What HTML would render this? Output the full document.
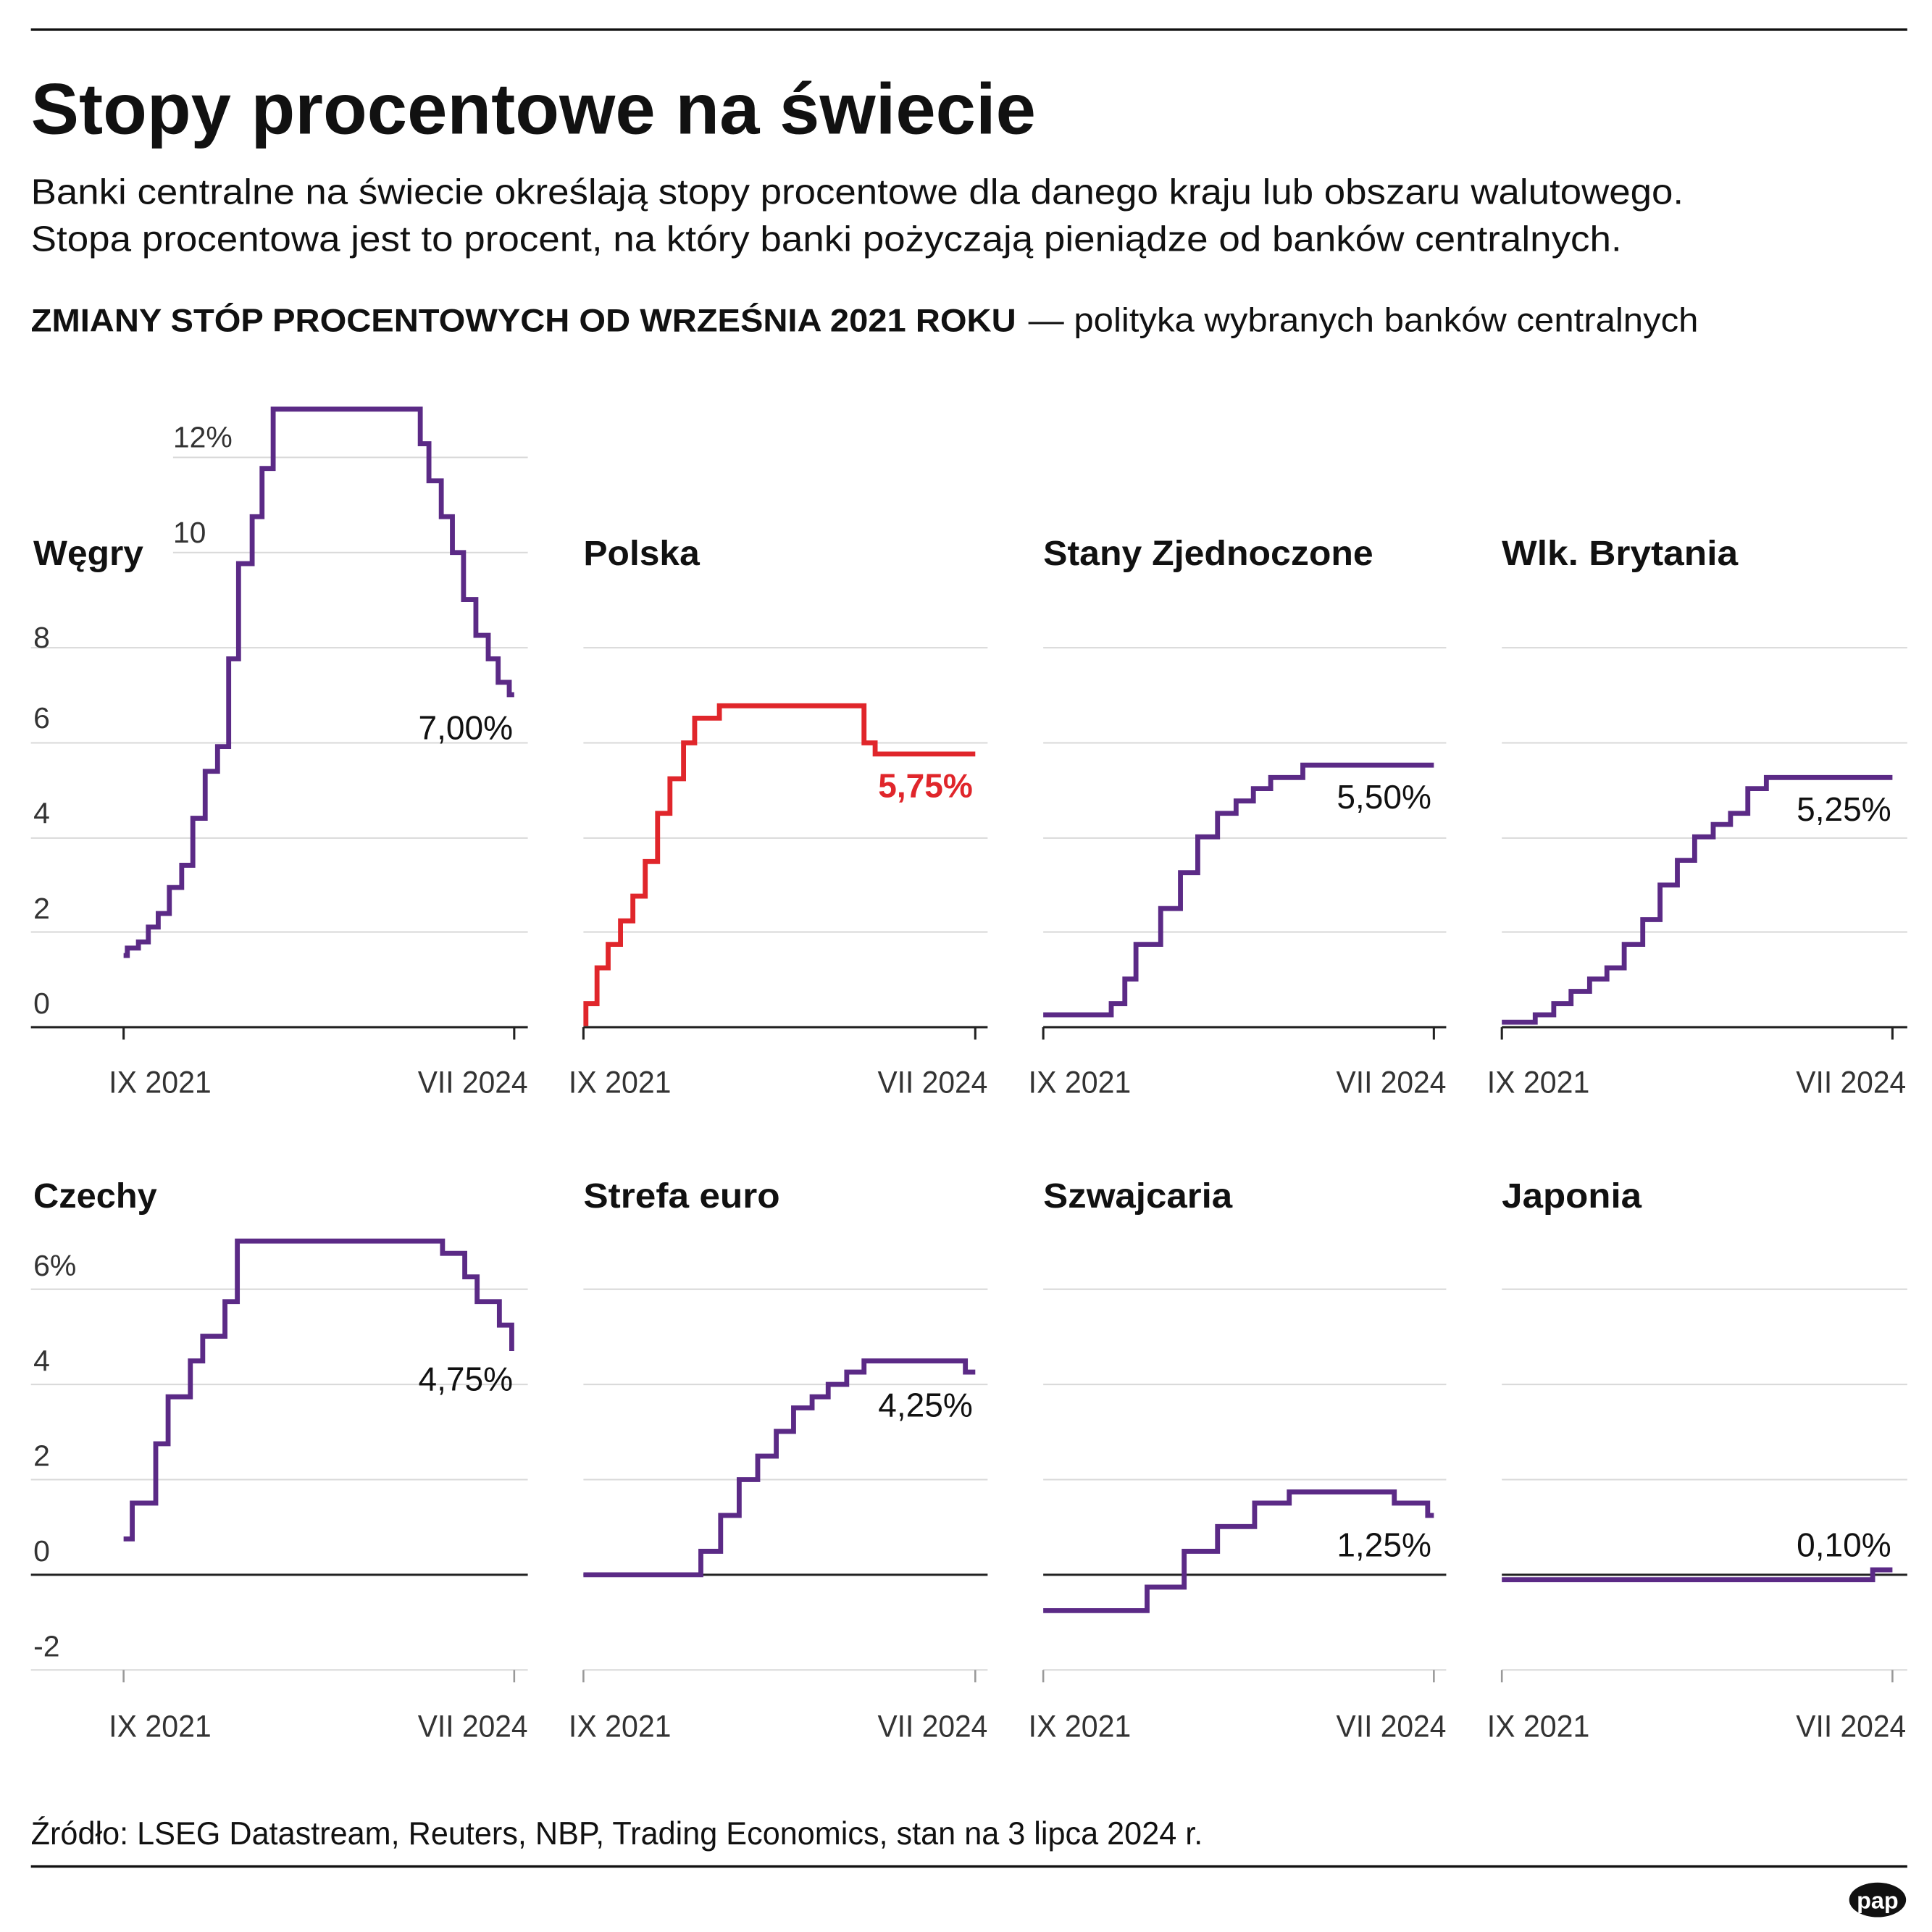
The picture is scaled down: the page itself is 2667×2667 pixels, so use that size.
<!DOCTYPE html>
<html><head><meta charset="utf-8"><style>
html,body{margin:0;padding:0;background:#fff}
svg{display:block}
text{font-family:"Liberation Sans",sans-serif;fill:#111}
.b{font-weight:bold}
.g{stroke:#d9d9d9;stroke-width:1.2;fill:none}
.ax{stroke:#222;stroke-width:1.8;fill:none}
.s{stroke:#5b2a86;stroke-width:4;fill:none;stroke-linejoin:miter}
.r{stroke:#e0262b;stroke-width:4;fill:none}
.yl{font-size:24px;fill:#333}
.xl{font-size:25px;fill:#333}
.pt{font-size:28px;font-weight:bold}
.vl{font-size:27px;text-anchor:end}
</style></head><body>
<svg width="2667" height="2667" viewBox="0 0 1563 1563" xmlns="http://www.w3.org/2000/svg">
<line x1="25" y1="24" x2="1543" y2="24" stroke="#111" stroke-width="2"/>
<text x="25" y="108" font-size="58" class="b" textLength="813" lengthAdjust="spacingAndGlyphs">Stopy procentowe na świecie</text>
<text x="25" y="165" font-size="29" textLength="1337" lengthAdjust="spacingAndGlyphs" fill="#222">Banki centralne na świecie określają stopy procentowe dla danego kraju lub obszaru walutowego.</text>
<text x="25" y="203" font-size="29" textLength="1287" lengthAdjust="spacingAndGlyphs" fill="#222">Stopa procentowa jest to procent, na który banki pożyczają pieniądze od banków centralnych.</text>
<text x="25" y="268" font-size="26" class="b" textLength="797" lengthAdjust="spacingAndGlyphs">ZMIANY STÓP PROCENTOWYCH OD WRZEŚNIA 2021 ROKU</text>
<text x="832" y="268" font-size="27" textLength="542" lengthAdjust="spacingAndGlyphs" fill="#222">— polityka wybranych banków centralnych</text>

<!-- Row 1 grid -->
<g class="g">
<line x1="140" y1="370" x2="427" y2="370"/><line x1="140" y1="447" x2="427" y2="447"/>
<line x1="25" y1="524" x2="427" y2="524"/><line x1="25" y1="601" x2="427" y2="601"/><line x1="25" y1="678" x2="427" y2="678"/><line x1="25" y1="754" x2="427" y2="754"/>
<line x1="472" y1="524" x2="799" y2="524"/><line x1="472" y1="601" x2="799" y2="601"/><line x1="472" y1="678" x2="799" y2="678"/><line x1="472" y1="754" x2="799" y2="754"/>
<line x1="844" y1="524" x2="1170" y2="524"/><line x1="844" y1="601" x2="1170" y2="601"/><line x1="844" y1="678" x2="1170" y2="678"/><line x1="844" y1="754" x2="1170" y2="754"/>
<line x1="1215" y1="524" x2="1543" y2="524"/><line x1="1215" y1="601" x2="1543" y2="601"/><line x1="1215" y1="678" x2="1543" y2="678"/><line x1="1215" y1="754" x2="1543" y2="754"/>
</g>
<g class="ax">
<line x1="25" y1="831" x2="427" y2="831"/><line x1="472" y1="831" x2="799" y2="831"/><line x1="844" y1="831" x2="1170" y2="831"/><line x1="1215" y1="831" x2="1543" y2="831"/>
<line x1="100" y1="831" x2="100" y2="841"/><line x1="416" y1="831" x2="416" y2="841"/>
<line x1="472" y1="831" x2="472" y2="841"/><line x1="789" y1="831" x2="789" y2="841"/>
<line x1="844" y1="831" x2="844" y2="841"/><line x1="1160" y1="831" x2="1160" y2="841"/>
<line x1="1215" y1="831" x2="1215" y2="841"/><line x1="1531" y1="831" x2="1531" y2="841"/>
</g>
<text class="yl" x="140" y="362">12%</text><text class="yl" x="140" y="439">10</text>
<text class="yl" x="27" y="524">8</text><text class="yl" x="27" y="589">6</text><text class="yl" x="27" y="666">4</text><text class="yl" x="27" y="743">2</text><text class="yl" x="27" y="820">0</text>
<g class="xl">
<text class="xl" x="88" y="884" textLength="83" lengthAdjust="spacingAndGlyphs">IX 2021</text><text class="xl" x="338" y="884" textLength="89" lengthAdjust="spacingAndGlyphs">VII 2024</text>
<text class="xl" x="460" y="884" textLength="83" lengthAdjust="spacingAndGlyphs">IX 2021</text><text class="xl" x="710" y="884" textLength="89" lengthAdjust="spacingAndGlyphs">VII 2024</text>
<text class="xl" x="832" y="884" textLength="83" lengthAdjust="spacingAndGlyphs">IX 2021</text><text class="xl" x="1081" y="884" textLength="89" lengthAdjust="spacingAndGlyphs">VII 2024</text>
<text class="xl" x="1203" y="884" textLength="83" lengthAdjust="spacingAndGlyphs">IX 2021</text><text class="xl" x="1453" y="884" textLength="89" lengthAdjust="spacingAndGlyphs">VII 2024</text>
</g>
<text class="pt" x="27" y="457" textLength="89" lengthAdjust="spacingAndGlyphs">Węgry</text>
<text class="pt" x="472" y="457" textLength="94" lengthAdjust="spacingAndGlyphs">Polska</text>
<text class="pt" x="844" y="457" textLength="267" lengthAdjust="spacingAndGlyphs">Stany Zjednoczone</text>
<text class="pt" x="1215" y="457" textLength="191" lengthAdjust="spacingAndGlyphs">Wlk. Brytania</text>

<polyline class="s" points="100,773 103,773 103,767 112,767 112,762 120,762 120,750 128,750 128,739 137,739 137,718 147,718 147,700 156,700 156,662 166,662 166,624 176,624 176,604 185,604 185,533 193,533 193,456 204,456 204,418 212,418 212,379 221,379 221,331 340,331 340,359 347,359 347,389 357,389 357,418 366,418 366,447 375,447 375,485 385,485 385,514 395,514 395,533 403,533 403,552 412,552 412,562 416,562"/>
<text class="vl" x="415" y="598">7,00%</text>
<polyline class="r" points="472,828 474,828 474,812 483,812 483,783 492,783 492,764 502,764 502,745 512,745 512,725 522,725 522,697 532,697 532,658 542,658 542,630 553,630 553,601 562,601 562,581 582,581 582,571 699,571 699,601 708,601 708,610 789,610"/>
<text class="vl b" x="787" y="645" fill="#e0262b" style="fill:#e0262b;font-weight:bold">5,75%</text>
<polyline class="s" points="844,821 899,821 899,812 910,812 910,792 919,792 919,764 939,764 939,735 955,735 955,706 969,706 969,677 985,677 985,658 1000,658 1000,648 1014,648 1014,638 1028,638 1028,629 1054,629 1054,619 1160,619"/>
<text class="vl" x="1158" y="654">5,50%</text>
<polyline class="s" points="1215,827 1242,827 1242,821 1257,821 1257,812 1271,812 1271,802 1286,802 1286,792 1300,792 1300,783 1314,783 1314,764 1329,764 1329,744 1343,744 1343,716 1357,716 1357,696 1371,696 1371,677 1386,677 1386,667 1400,667 1400,658 1414,658 1414,638 1429,638 1429,629 1531,629"/>
<text class="vl" x="1530" y="664">5,25%</text>

<!-- Row 2 -->
<g class="g">
<line x1="25" y1="1043" x2="427" y2="1043"/><line x1="25" y1="1120" x2="427" y2="1120"/><line x1="25" y1="1197" x2="427" y2="1197"/><line x1="25" y1="1351" x2="427" y2="1351"/>
<line x1="472" y1="1043" x2="799" y2="1043"/><line x1="472" y1="1120" x2="799" y2="1120"/><line x1="472" y1="1197" x2="799" y2="1197"/><line x1="472" y1="1351" x2="799" y2="1351"/>
<line x1="844" y1="1043" x2="1170" y2="1043"/><line x1="844" y1="1120" x2="1170" y2="1120"/><line x1="844" y1="1197" x2="1170" y2="1197"/><line x1="844" y1="1351" x2="1170" y2="1351"/>
<line x1="1215" y1="1043" x2="1543" y2="1043"/><line x1="1215" y1="1120" x2="1543" y2="1120"/><line x1="1215" y1="1197" x2="1543" y2="1197"/><line x1="1215" y1="1351" x2="1543" y2="1351"/>
</g>
<g class="ax">
<line x1="25" y1="1274" x2="427" y2="1274"/><line x1="472" y1="1274" x2="799" y2="1274"/><line x1="844" y1="1274" x2="1170" y2="1274"/><line x1="1215" y1="1274" x2="1543" y2="1274"/>
</g>
<g stroke="#999" stroke-width="1.5">
<line x1="100" y1="1351" x2="100" y2="1361"/><line x1="416" y1="1351" x2="416" y2="1361"/>
<line x1="472" y1="1351" x2="472" y2="1361"/><line x1="789" y1="1351" x2="789" y2="1361"/>
<line x1="844" y1="1351" x2="844" y2="1361"/><line x1="1160" y1="1351" x2="1160" y2="1361"/>
<line x1="1215" y1="1351" x2="1215" y2="1361"/><line x1="1531" y1="1351" x2="1531" y2="1361"/>
</g>
<text class="yl" x="27" y="1032">6%</text><text class="yl" x="27" y="1109">4</text><text class="yl" x="27" y="1186">2</text><text class="yl" x="27" y="1263">0</text><text class="yl" x="27" y="1340">-2</text>
<text class="xl" x="88" y="1405" textLength="83" lengthAdjust="spacingAndGlyphs">IX 2021</text><text class="xl" x="338" y="1405" textLength="89" lengthAdjust="spacingAndGlyphs">VII 2024</text>
<text class="xl" x="460" y="1405" textLength="83" lengthAdjust="spacingAndGlyphs">IX 2021</text><text class="xl" x="710" y="1405" textLength="89" lengthAdjust="spacingAndGlyphs">VII 2024</text>
<text class="xl" x="832" y="1405" textLength="83" lengthAdjust="spacingAndGlyphs">IX 2021</text><text class="xl" x="1081" y="1405" textLength="89" lengthAdjust="spacingAndGlyphs">VII 2024</text>
<text class="xl" x="1203" y="1405" textLength="83" lengthAdjust="spacingAndGlyphs">IX 2021</text><text class="xl" x="1453" y="1405" textLength="89" lengthAdjust="spacingAndGlyphs">VII 2024</text>
<text class="pt" x="27" y="977" textLength="100" lengthAdjust="spacingAndGlyphs">Czechy</text>
<text class="pt" x="472" y="977" textLength="159" lengthAdjust="spacingAndGlyphs">Strefa euro</text>
<text class="pt" x="844" y="977" textLength="153" lengthAdjust="spacingAndGlyphs">Szwajcaria</text>
<text class="pt" x="1215" y="977" textLength="113" lengthAdjust="spacingAndGlyphs">Japonia</text>

<polyline class="s" points="100,1245 107,1245 107,1216 126,1216 126,1168 136,1168 136,1130 154,1130 154,1101 164,1101 164,1081 182,1081 182,1053 192,1053 192,1004 358,1004 358,1014 376,1014 376,1033 386,1033 386,1053 404,1053 404,1072 414,1072 414,1091 416,1091"/>
<text class="vl" x="415" y="1125">4,75%</text>
<polyline class="s" points="472,1274 567,1274 567,1255 583,1255 583,1226 598,1226 598,1197 613,1197 613,1178 628,1178 628,1158 642,1158 642,1139 657,1139 657,1130 670,1130 670,1120 685,1120 685,1110 699,1110 699,1101 781,1101 781,1110 789,1110"/>
<text class="vl" x="787" y="1146">4,25%</text>
<polyline class="s" points="844,1303 928,1303 928,1284 958,1284 958,1255 985,1255 985,1235 1015,1235 1015,1216 1043,1216 1043,1207 1128,1207 1128,1216 1155,1216 1155,1226 1160,1226"/>
<text class="vl" x="1158" y="1259">1,25%</text>
<polyline class="s" points="1215,1278 1515,1278 1515,1270 1531,1270"/>
<text class="vl" x="1530" y="1259">0,10%</text>

<text x="25" y="1492" font-size="26" textLength="948" lengthAdjust="spacingAndGlyphs" fill="#222">Źródło: LSEG Datastream, Reuters, NBP, Trading Economics, stan na 3 lipca 2024 r.</text>
<line x1="25" y1="1510" x2="1543" y2="1510" stroke="#111" stroke-width="2"/>
<ellipse cx="1519" cy="1537" rx="23" ry="14" fill="#111"/>
<text x="1519" y="1544" font-size="19" class="b" text-anchor="middle" style="fill:#fff;font-weight:bold">pap</text>
</svg>
</body></html>
